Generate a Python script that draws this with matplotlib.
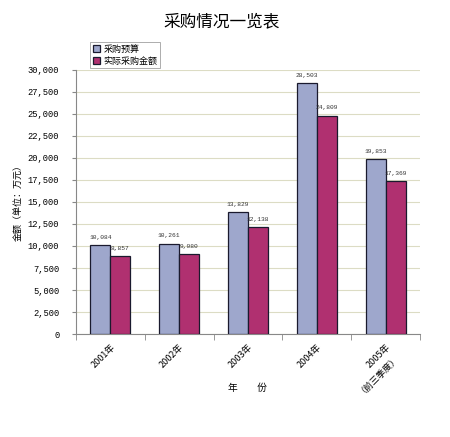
import numpy as np
import matplotlib.pyplot as plt
from matplotlib.ticker import FuncFormatter, MultipleLocator

plt.rcParams['font.family'] = ['Noto Sans CJK SC', 'DejaVu Sans']

# 数据
categories = ["2001年", "2002年", "2003年", "2004年", "2005年\n（前三季度）"]
budget = [10084, 10261, 13829, 28503, 19853]
actual = [8857, 9080, 12138, 24809, 17369]
series_names = ["采购预算", "实际采购金额"]

fig = plt.figure(figsize=(4.5, 4.37), dpi=100)
ax = fig.add_axes([76 / 450, 1 - 334 / 437, 344 / 450, 264 / 437])

x = np.arange(len(categories))
w = 0.29
b1 = ax.bar(x - w / 2, budget, w, color="#9ea7cc", edgecolor="#1a1a2e",
            linewidth=0.9, label=series_names[0], zorder=3)
b2 = ax.bar(x + w / 2, actual, w, color="#b03070", edgecolor="#1a1a2e",
            linewidth=0.9, label=series_names[1], zorder=3)

for bars in (b1, b2):
    for r in bars:
        ax.annotate(f"{int(r.get_height()):,}",
                    (r.get_x() + r.get_width() / 2, r.get_height()),
                    xytext=(0, 4), textcoords="offset points",
                    ha="center", va="bottom", fontsize=4.5, color="#333333",
                    family="Liberation Mono")

ax.set_xlim(-0.5, len(categories) - 0.5)
ax.set_ylim(0, 30000)
ax.yaxis.set_major_locator(MultipleLocator(2500))
ax.yaxis.set_major_formatter(FuncFormatter(lambda v, p: f"{int(v):,}"))
ax.tick_params(axis="y", labelsize=6.3, length=3, color="#888888", pad=9)
for t in ax.get_yticklabels():
    t.set_family("Liberation Mono")
ax.grid(axis="y", color="#dcdcc4", linewidth=0.8, zorder=0)

ax.set_xticks(x)
ax.set_xticklabels(categories, rotation=45, ha="right", rotation_mode="anchor",
                   fontsize=6.5)
ax.tick_params(axis="x", length=0, pad=6)
ax.set_xticks(np.arange(len(categories) + 1) - 0.5, minor=True)
ax.tick_params(axis="x", which="minor", length=4, color="#888888")

for s in ("top", "right"):
    ax.spines[s].set_visible(False)
for s in ("left", "bottom"):
    ax.spines[s].set_color("#888888")
    ax.spines[s].set_linewidth(0.8)

fig.text(18 / 450, 1 - 200 / 437, "金额（单位：万元）", ha="center", va="center",
         rotation=90, fontsize=6.5)
fig.text(248 / 450, 1 - 388 / 437, "年　　份", ha="center", va="center",
         fontsize=7)

fig.text(222 / 450, 1 - 22 / 437, "采购情况一览表", ha="center", va="center",
         fontsize=12)

leg = ax.legend(loc="lower left", bbox_to_anchor=(12 / 344, 1.0), fontsize=6.5,
                frameon=True, fancybox=False, edgecolor="#888888",
                handlelength=0.8, handleheight=0.8, handletextpad=0.4,
                borderpad=0.3, labelspacing=0.3, borderaxespad=0.2)
leg.get_frame().set_linewidth(0.6)

fig.savefig("out.png", dpi=100)
